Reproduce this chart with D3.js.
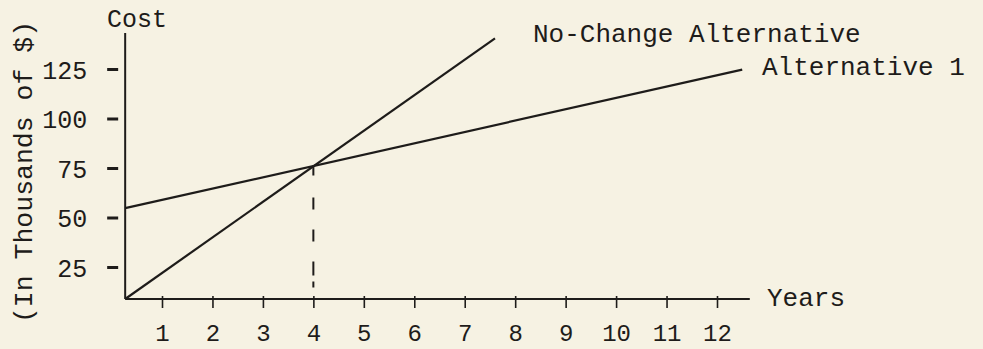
<!DOCTYPE html>
<html>
<head>
<meta charset="utf-8">
<script src="https://cdn.jsdelivr.net/npm/d3@7"></script>
<style>
  html, body { margin: 0; padding: 0; background: #f6f2e3; }
  svg { display: block; }
  text { font-family: "Liberation Mono", "Courier New", monospace; fill: #1e1c1a; }
</style>
</head>
<body>
<svg id="chart" width="983" height="349"></svg>
<script>
// ---- data ----
const years = [1, 2, 3, 4, 5, 6, 7, 8, 9, 10, 11, 12];
const costTicks = [25, 50, 75, 100, 125];
const axisYears = [0.27, 12.65];     // extent of the drawn x axis
const axisCost = [8.84, 143.2];      // extent of the drawn y axis
const noChangeYears = [0.27, 7.6];
const noChangeCost = [8.84, 140.5];
const alt1Years = [0.27, 12.5];
const alt1Cost = [54.7, 124.7];
const breakEvenYear = 4;
const breakEvenCost = 75.8;
const labels = {
  yTitle: "Cost",
  yUnit: "(In Thousands of $)",
  xTitle: "Years",
  noChange: "No-Change Alternative",
  alt1: "Alternative 1"
};

// ---- scales ----
const x = d3.scaleLinear().domain([1, 12]).range([162, 717]);
const y = d3.scaleLinear().domain([25, 125]).range([267, 69]);

const svg = d3.select("#chart");
const ink = "#1e1c1a";

// axes lines
svg.append("line")
  .attr("x1", x(axisYears[0])).attr("x2", x(axisYears[1]))
  .attr("y1", y(axisCost[0])).attr("y2", y(axisCost[0]))
  .attr("stroke", ink).attr("stroke-width", 2);
svg.append("line")
  .attr("x1", x(axisYears[0])).attr("x2", x(axisYears[0]))
  .attr("y1", y(axisCost[0])).attr("y2", y(axisCost[1]))
  .attr("stroke", ink).attr("stroke-width", 2);

// x axis ticks via d3 axis
const xAxis = d3.axisBottom(x).tickValues(years).tickSize(9).tickPadding(16).tickFormat(d3.format("d"));
const gx = svg.append("g").attr("transform", `translate(0,${y(axisCost[0])})`).call(xAxis);
gx.select(".domain").remove();
gx.selectAll(".tick line").attr("y1", -3).attr("stroke", ink).attr("stroke-width", 1.6);
gx.selectAll(".tick text").attr("font-size", 24).attr("font-family", "Liberation Mono")
  .attr("fill", ink).attr("dy", null).attr("y", 42);

// y axis ticks via d3 axis
const yAxis = d3.axisLeft(y).tickValues(costTicks).tickSize(0).tickPadding(0).tickFormat(d3.format("d"));
const gy = svg.append("g").attr("transform", `translate(${x(axisYears[0])},0)`).call(yAxis);
gy.select(".domain").remove();
gy.selectAll(".tick line").attr("x1", -18).attr("x2", -7).attr("stroke", ink).attr("stroke-width", 3);
gy.selectAll(".tick text").attr("font-size", 25).attr("font-family", "Liberation Mono")
  .attr("fill", ink).attr("x", -38).attr("dy", "0.36em");

// series lines
const line = d3.line().x(d => x(d[0])).y(d => y(d[1]));
svg.append("path")
  .attr("d", line(d3.zip(noChangeYears, noChangeCost)))
  .attr("fill", "none").attr("stroke", ink).attr("stroke-width", 2.2);
svg.append("path")
  .attr("d", line(d3.zip(alt1Years, alt1Cost)))
  .attr("fill", "none").attr("stroke", ink).attr("stroke-width", 2.2);

// break-even dashed line
svg.append("line")
  .attr("x1", x(breakEvenYear)).attr("x2", x(breakEvenYear))
  .attr("y1", y(breakEvenCost)).attr("y2", y(axisCost[0]))
  .attr("stroke", ink).attr("stroke-width", 2)
  .attr("stroke-dasharray", "9,22,12,20,12,20,14,6,6,20");

// texts
svg.append("text").attr("x", 107).attr("y", 27).attr("font-size", 25).text(labels.yTitle);
svg.append("text")
  .attr("transform", "translate(32,172) rotate(-90)")
  .attr("text-anchor", "middle").attr("font-size", 26.5).text(labels.yUnit);
svg.append("text").attr("x", 767).attr("y", 306).attr("font-size", 26).text(labels.xTitle);
svg.append("text").attr("x", 533).attr("y", 42).attr("font-size", 26).text(labels.noChange);
svg.append("text").attr("x", 762).attr("y", 75).attr("font-size", 26).text(labels.alt1);
</script>
</body>
</html>
